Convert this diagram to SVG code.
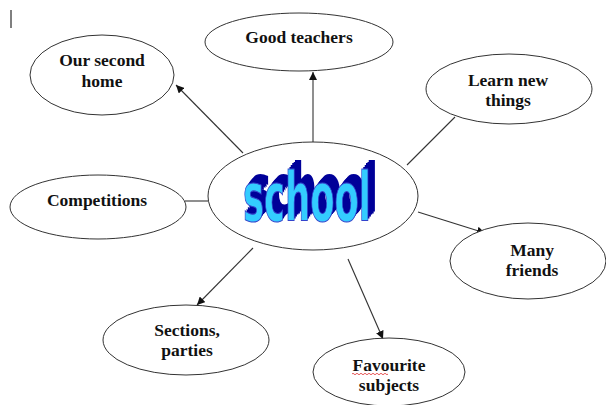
<svg xmlns="http://www.w3.org/2000/svg" xmlns:xlink="http://www.w3.org/1999/xlink" width="606" height="405" viewBox="0 0 606 405">
<style>
.node ellipse{fill:#fff;stroke:#333;stroke-width:1}
.lbl{font-family:"Liberation Serif","Times New Roman",serif;font-weight:bold;font-size:17.5px;fill:#111;text-anchor:middle}
.conn line{stroke:#333;stroke-width:1.1}
.wa{font-family:"DejaVu Sans Condensed","DejaVu Sans",sans-serif;font-weight:bold;font-size:44px}
</style>
<defs>
<marker id="arr" viewBox="0 0 10 10" refX="10" refY="5" markerWidth="8" markerHeight="8" markerUnits="userSpaceOnUse" orient="auto">
<path d="M0,0 L10,5 L0,10 z" fill="#111"/>
</marker>
<text id="w" class="wa" x="0" y="0" textLength="128" lengthAdjust="spacingAndGlyphs">school</text>
</defs>
<rect width="606" height="405" fill="#fff"/>
<line x1="11" y1="10" x2="11" y2="28" stroke="#000" stroke-width="1"/>
<g id="connectors" class="conn">
<line x1="313" y1="142" x2="313" y2="72" marker-end="url(#arr)"/>
<line x1="243" y1="153" x2="176" y2="85" marker-end="url(#arr)"/>
<line x1="407" y1="165" x2="455" y2="117"/>
<line x1="185" y1="201" x2="208" y2="201"/>
<line x1="418" y1="212" x2="485" y2="233" marker-end="url(#arr)"/>
<line x1="253" y1="248" x2="197" y2="305" marker-end="url(#arr)"/>
<line x1="348" y1="259" x2="383" y2="339" marker-end="url(#arr)"/>
</g>
<g id="school" class="node">
<ellipse cx="313" cy="196" rx="105" ry="54"/>
<g transform="translate(243,221) scale(1,1.55)">
<use xlink:href="#w" x="7" y="-6" fill="#000099"/>
<use xlink:href="#w" x="5.6" y="-4.8" fill="#000099"/>
<use xlink:href="#w" x="4.2" y="-3.6" fill="#000099"/>
<use xlink:href="#w" x="2.8" y="-2.4" fill="#000099"/>
<use xlink:href="#w" x="1.4" y="-1.2" fill="#000099"/>
<use xlink:href="#w" x="0" y="0" fill="#33ccff" stroke="#3344cc" stroke-width="0.7"/>
</g>
</g>
<g id="good-teachers" class="node">
<ellipse cx="299" cy="42" rx="94" ry="29"/>
<text class="lbl" x="299" y="43">Good teachers</text>
</g>
<g id="our-second-home" class="node">
<ellipse cx="102" cy="75" rx="72" ry="40"/>
<text class="lbl" x="102" y="66">Our second</text>
<text class="lbl" x="102" y="87">home</text>
</g>
<g id="learn-new-things" class="node">
<ellipse cx="509" cy="89" rx="83" ry="35"/>
<text class="lbl" x="508" y="86">Learn new</text>
<text class="lbl" x="508" y="106">things</text>
</g>
<g id="competitions" class="node">
<ellipse cx="98" cy="207" rx="88" ry="32"/>
<text class="lbl" x="97" y="206">Competitions</text>
</g>
<g id="many-friends" class="node">
<ellipse cx="528" cy="261" rx="78" ry="38"/>
<text class="lbl" x="532" y="256">Many</text>
<text class="lbl" x="532" y="276">friends</text>
</g>
<g id="sections-parties" class="node">
<ellipse cx="186" cy="340" rx="83" ry="35"/>
<text class="lbl" x="187" y="336">Sections,</text>
<text class="lbl" x="187" y="356">parties</text>
</g>
<g id="favourite-subjects" class="node">
<ellipse cx="389" cy="372" rx="76" ry="34"/>
<text class="lbl" x="389" y="371">Favourite</text>
<text class="lbl" x="389" y="391">subjects</text>
<path d="M352,374 q1,-1.5 2,0 t2,0 t2,0 t2,0 t2,0 t2,0 t2,0 t2,0 t2,0 t2,0 t2,0 t2,0 t2,0 t2,0 t2,0 t2,0 t2,0 t2,0" fill="none" stroke="#e03030" stroke-width="0.8"/>
</g>
</svg>
